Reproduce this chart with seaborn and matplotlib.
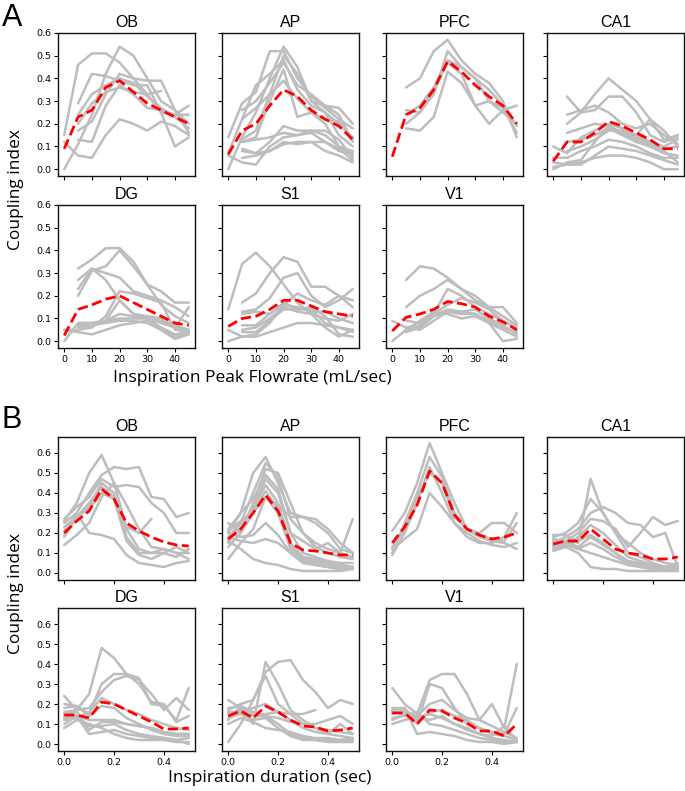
import numpy as np
import pandas as pd
import matplotlib.pyplot as plt
import seaborn as sns

nan = np.nan

regions = ['OB', 'AP', 'PFC', 'CA1', 'DG', 'S1', 'V1']
flowrate = [0, 5, 10, 15, 20, 25, 30, 35, 40, 45]
duration = [0.0, 0.05, 0.1, 0.15, 0.2, 0.25, 0.3, 0.35, 0.4, 0.45, 0.5]

# ---- panel A: coupling index vs inspiration peak flowrate ----
a_ob_mean = [0.09, 0.23, 0.26, 0.36, 0.39, 0.34, 0.29, 0.26, 0.23, 0.20]
a_ob = [
    [0.15, 0.46, 0.51, 0.51, 0.47, 0.40, 0.33, 0.25, 0.24, 0.24],
    [nan, 0.29, 0.42, 0.41, 0.39, 0.37, 0.37, 0.25, 0.10, 0.14],
    [0.00, 0.11, 0.24, 0.42, 0.54, 0.50, 0.40, 0.30, 0.26, 0.20],
    [0.12, 0.06, 0.05, 0.15, 0.22, 0.20, 0.17, 0.21, 0.19, 0.15],
    [nan, 0.13, 0.12, 0.28, 0.37, 0.33, 0.27, 0.26, 0.24, 0.28],
    [nan, 0.17, 0.21, 0.33, 0.42, 0.40, 0.39, 0.39, 0.26, 0.16],
    [nan, 0.20, 0.29, 0.34, 0.36, 0.34, 0.33, 0.345, nan, nan],
    [nan, 0.24, 0.33, 0.37, 0.40, 0.38, 0.32, 0.27, 0.23, 0.18],
]
a_ap_mean = [0.065, 0.17, 0.20, 0.28, 0.35, 0.32, 0.26, 0.22, 0.19, 0.13]
a_ap = [
    [0.14, 0.29, 0.34, 0.52, 0.52, 0.40, 0.32, 0.27, 0.22, 0.18],
    [0.00, 0.14, 0.25, 0.40, 0.54, 0.45, 0.30, 0.28, 0.27, 0.20],
    [0.07, 0.22, 0.37, 0.42, 0.48, 0.35, 0.28, 0.25, 0.15, 0.10],
    [nan, 0.26, 0.30, 0.38, 0.47, 0.37, 0.33, 0.28, 0.24, 0.12],
    [nan, 0.12, 0.14, 0.30, 0.44, 0.23, 0.25, 0.20, 0.10, 0.08],
    [nan, 0.13, 0.17, 0.33, 0.50, 0.42, 0.30, 0.25, 0.20, 0.14],
    [0.06, 0.03, 0.02, 0.10, 0.14, 0.15, 0.17, 0.15, 0.10, 0.06],
    [nan, 0.08, 0.07, 0.12, 0.19, 0.17, 0.17, 0.17, 0.13, 0.05],
    [nan, 0.12, 0.13, 0.14, 0.16, 0.15, 0.16, 0.12, 0.09, 0.04],
    [nan, 0.05, 0.06, 0.08, 0.12, 0.11, 0.12, 0.12, 0.08, 0.07],
    [nan, 0.22, 0.27, 0.33, 0.39, 0.31, 0.25, 0.22, 0.21, 0.13],
    [nan, 0.09, 0.07, 0.08, 0.11, 0.12, 0.12, 0.08, 0.06, 0.03],
]
a_pfc_mean = [0.055, 0.24, 0.27, 0.35, 0.475, 0.43, 0.37, 0.32, 0.28, 0.20]
a_pfc = [
    [nan, 0.36, 0.40, 0.52, 0.57, 0.48, 0.42, 0.38, 0.30, 0.14],
    [nan, 0.26, 0.25, 0.33, 0.52, 0.45, 0.40, 0.30, 0.25, 0.20],
    [nan, 0.18, 0.17, 0.23, 0.43, 0.38, 0.28, 0.20, 0.26, 0.28],
    [nan, 0.20, 0.25, 0.35, 0.47, 0.42, 0.28, 0.30, 0.27, 0.16],
    [nan, 0.24, 0.28, 0.36, 0.48, 0.45, 0.40, 0.35, 0.28, 0.19],
]
a_ca1_mean = [0.035, 0.12, 0.12, 0.16, 0.21, 0.19, 0.16, 0.13, 0.09, 0.09]
a_ca1 = [
    [nan, 0.32, 0.25, 0.33, 0.40, 0.35, 0.30, 0.22, 0.17, 0.10],
    [nan, 0.20, 0.25, 0.26, 0.32, 0.32, 0.25, 0.15, 0.12, 0.14],
    [nan, 0.24, 0.26, 0.28, 0.25, 0.20, 0.18, 0.20, 0.15, 0.11],
    [0.10, 0.07, 0.14, 0.17, 0.20, 0.18, 0.15, 0.22, 0.13, 0.15],
    [nan, 0.16, 0.18, 0.20, 0.19, 0.16, 0.15, 0.12, 0.10, 0.13],
    [0.00, 0.03, 0.04, 0.12, 0.19, 0.16, 0.13, 0.10, 0.07, 0.06],
    [0.05, 0.05, 0.08, 0.10, 0.13, 0.12, 0.10, 0.07, 0.05, 0.05],
    [0.03, 0.02, 0.03, 0.05, 0.06, 0.06, 0.05, 0.03, 0.00, 0.00],
    [nan, 0.12, 0.13, 0.15, 0.18, 0.15, 0.12, 0.10, 0.08, 0.03],
    [nan, 0.08, 0.10, 0.13, 0.17, 0.17, 0.14, 0.11, 0.09, 0.10],
    [0.01, 0.02, 0.02, 0.06, 0.10, 0.09, 0.08, 0.06, 0.04, 0.02],
]
a_dg_mean = [0.025, 0.14, 0.16, 0.185, 0.20, 0.17, 0.14, 0.11, 0.08, 0.07]
a_dg = [
    [nan, 0.32, 0.36, 0.41, 0.41, 0.35, 0.25, 0.22, 0.17, 0.17],
    [nan, 0.27, 0.32, 0.30, 0.28, 0.22, 0.20, 0.18, 0.15, 0.11],
    [nan, 0.20, 0.31, 0.33, 0.40, 0.33, 0.25, 0.16, 0.11, 0.08],
    [nan, 0.23, 0.32, 0.27, 0.18, 0.12, 0.10, 0.09, 0.07, 0.05],
    [0.05, 0.05, 0.06, 0.11, 0.22, 0.21, 0.19, 0.17, 0.05, 0.04],
    [0.00, 0.08, 0.08, 0.09, 0.18, 0.12, 0.11, 0.10, 0.06, 0.15],
    [nan, 0.07, 0.07, 0.09, 0.12, 0.11, 0.10, 0.06, 0.03, 0.04],
    [nan, 0.06, 0.07, 0.08, 0.09, 0.09, 0.08, 0.05, 0.02, 0.03],
    [0.05, 0.04, 0.03, 0.05, 0.07, 0.08, 0.09, 0.05, 0.01, 0.03],
    [nan, 0.08, 0.08, 0.09, 0.10, 0.10, 0.10, 0.08, 0.06, 0.05],
]
a_s1_mean = [0.065, 0.10, 0.11, 0.14, 0.18, 0.18, 0.155, 0.13, 0.12, 0.11]
a_s1 = [
    [0.14, 0.34, 0.39, 0.33, 0.25, 0.17, 0.12, 0.06, 0.02, 0.05],
    [nan, 0.17, 0.21, 0.30, 0.37, 0.35, 0.24, 0.24, 0.20, 0.15],
    [nan, 0.13, 0.14, 0.19, 0.28, 0.30, 0.20, 0.15, 0.18, 0.23],
    [0.05, 0.02, 0.03, 0.08, 0.16, 0.21, 0.18, 0.16, 0.20, 0.18],
    [nan, 0.07, 0.07, 0.12, 0.16, 0.15, 0.13, 0.13, 0.10, 0.08],
    [0.00, 0.02, 0.02, 0.04, 0.06, 0.08, 0.08, 0.07, 0.06, 0.05],
    [nan, 0.04, 0.04, 0.09, 0.14, 0.14, 0.15, 0.11, 0.03, 0.02],
    [nan, 0.05, 0.06, 0.10, 0.15, 0.13, 0.12, 0.10, 0.09, 0.12],
    [nan, 0.12, 0.13, 0.12, 0.17, 0.14, 0.14, 0.08, 0.06, 0.04],
]
a_v1_mean = [0.045, 0.105, 0.12, 0.14, 0.175, 0.165, 0.15, 0.11, 0.085, 0.05]
a_v1 = [
    [nan, 0.27, 0.33, 0.32, 0.28, 0.23, 0.18, 0.15, 0.15, 0.08],
    [nan, 0.15, 0.20, 0.23, 0.27, 0.23, 0.20, 0.15, 0.11, 0.07],
    [nan, 0.04, 0.06, 0.12, 0.23, 0.20, 0.15, 0.12, 0.09, 0.06],
    [0.00, 0.05, 0.06, 0.11, 0.14, 0.13, 0.12, 0.08, 0.00, 0.01],
    [0.09, 0.06, 0.07, 0.11, 0.13, 0.13, 0.14, 0.10, 0.07, 0.03],
    [nan, 0.05, 0.09, 0.13, 0.12, 0.10, 0.11, 0.08, 0.05, 0.02],
    [nan, 0.09, 0.08, 0.12, 0.16, 0.19, 0.17, 0.14, 0.09, 0.05],
    [nan, 0.06, 0.05, 0.09, 0.13, 0.12, 0.12, 0.09, 0.06, 0.04],
]

# ---- panel B: coupling index vs inspiration duration ----
b_ob_mean = [0.20, 0.26, 0.31, 0.42, 0.37, 0.25, 0.21, 0.18, 0.155, 0.14, 0.135]
b_ob = [
    [0.26, 0.35, 0.50, 0.59, 0.45, 0.34, 0.22, 0.13, 0.12, 0.10, 0.07],
    [0.19, 0.30, 0.40, 0.49, 0.53, 0.52, 0.53, 0.38, 0.37, 0.28, 0.30],
    [0.27, 0.33, 0.38, 0.47, 0.43, 0.44, 0.43, 0.35, 0.30, 0.20, 0.20],
    [0.14, 0.19, 0.25, 0.38, 0.45, 0.23, 0.20, 0.27, nan, nan, nan],
    [0.25, 0.30, 0.20, 0.19, 0.17, 0.09, 0.05, 0.04, 0.03, 0.05, 0.06],
    [0.21, 0.28, 0.33, 0.45, 0.40, 0.18, 0.10, 0.10, 0.10, 0.08, 0.12],
    [0.18, 0.28, 0.35, 0.43, 0.38, 0.22, 0.12, 0.10, 0.12, 0.10, 0.10],
    [0.23, 0.28, 0.32, 0.40, 0.37, 0.16, 0.09, 0.07, 0.10, 0.13, 0.10],
]
b_ap_mean = [0.17, 0.22, 0.30, 0.39, 0.31, 0.15, 0.115, 0.11, 0.10, 0.09, 0.09]
b_ap = [
    [0.20, 0.30, 0.50, 0.58, 0.45, 0.30, 0.28, 0.27, 0.22, 0.15, 0.10],
    [0.15, 0.25, 0.40, 0.55, 0.48, 0.27, 0.20, 0.15, 0.12, 0.10, 0.08],
    [0.25, 0.20, 0.35, 0.52, 0.50, 0.35, 0.20, 0.13, 0.10, 0.08, 0.07],
    [0.22, 0.30, 0.37, 0.49, 0.42, 0.20, 0.10, 0.08, 0.06, 0.05, 0.05],
    [0.18, 0.25, 0.32, 0.44, 0.35, 0.15, 0.08, 0.06, 0.05, 0.04, 0.03],
    [0.13, 0.20, 0.30, 0.41, 0.32, 0.14, 0.07, 0.05, 0.04, 0.03, 0.02],
    [0.07, 0.15, 0.22, 0.38, 0.30, 0.12, 0.06, 0.04, 0.03, 0.02, 0.02],
    [0.20, 0.18, 0.19, 0.25, 0.19, 0.10, 0.08, 0.07, 0.05, 0.04, 0.03],
    [0.18, 0.16, 0.15, 0.17, 0.15, 0.10, 0.05, 0.04, 0.03, 0.02, 0.03],
    [0.16, 0.12, 0.07, 0.05, 0.04, 0.02, 0.01, 0.01, 0.01, 0.01, 0.02],
    [0.21, 0.26, 0.30, 0.38, 0.34, 0.28, 0.28, 0.25, 0.20, 0.12, 0.10],
    [0.17, 0.22, 0.33, 0.47, 0.40, 0.20, 0.16, 0.12, 0.15, 0.10, 0.27],
]
b_pfc_mean = [0.15, 0.23, 0.34, 0.51, 0.45, 0.29, 0.22, 0.19, 0.17, 0.18, 0.20]
b_pfc = [
    [0.21, 0.30, 0.45, 0.65, 0.50, 0.35, 0.22, 0.18, 0.16, 0.15, 0.12],
    [0.10, 0.25, 0.40, 0.58, 0.48, 0.30, 0.22, 0.20, 0.25, 0.25, 0.20],
    [0.09, 0.20, 0.35, 0.53, 0.40, 0.25, 0.18, 0.15, 0.15, 0.18, 0.30],
    [0.12, 0.17, 0.22, 0.40, 0.33, 0.25, 0.20, 0.16, 0.14, 0.13, 0.15],
    [0.13, 0.22, 0.38, 0.50, 0.45, 0.28, 0.22, 0.19, 0.17, 0.16, 0.25],
]
b_ca1_mean = [0.145, 0.16, 0.16, 0.22, 0.17, 0.12, 0.10, 0.09, 0.07, 0.07, 0.08]
b_ca1 = [
    [0.19, 0.19, 0.15, 0.47, 0.30, 0.20, 0.10, 0.08, 0.05, 0.03, 0.01],
    [0.18, 0.20, 0.25, 0.37, 0.30, 0.20, 0.15, 0.10, 0.07, 0.05, 0.04],
    [0.15, 0.18, 0.22, 0.30, 0.33, 0.30, 0.25, 0.24, 0.18, 0.20, 0.03],
    [0.17, 0.16, 0.20, 0.27, 0.26, 0.22, 0.13, 0.20, 0.28, 0.24, 0.26],
    [0.14, 0.14, 0.16, 0.19, 0.15, 0.10, 0.05, 0.03, 0.02, 0.02, 0.02],
    [0.12, 0.14, 0.12, 0.15, 0.12, 0.08, 0.05, 0.04, 0.03, 0.02, 0.02],
    [0.11, 0.13, 0.10, 0.03, 0.02, 0.02, 0.01, 0.01, 0.01, 0.01, 0.01],
    [0.16, 0.15, 0.12, 0.10, 0.08, 0.06, 0.04, 0.03, 0.02, 0.01, 0.02],
    [0.13, 0.14, 0.18, 0.24, 0.20, 0.14, 0.08, 0.06, 0.04, 0.03, 0.03],
    [0.15, 0.16, 0.13, 0.18, 0.14, 0.10, 0.06, 0.05, 0.04, 0.03, 0.05],
]
b_dg_mean = [0.145, 0.145, 0.13, 0.21, 0.20, 0.17, 0.14, 0.11, 0.075, 0.075, 0.08]
b_dg = [
    [0.16, 0.17, 0.25, 0.48, 0.43, 0.35, 0.33, 0.20, 0.19, 0.12, 0.28],
    [0.20, 0.19, 0.15, 0.30, 0.35, 0.35, 0.30, 0.21, 0.20, 0.11, 0.14],
    [0.24, 0.17, 0.18, 0.26, 0.32, 0.34, 0.32, 0.25, 0.17, 0.23, 0.17],
    [0.12, 0.13, 0.16, 0.23, 0.20, 0.17, 0.15, 0.12, 0.10, 0.08, 0.07],
    [0.15, 0.16, 0.07, 0.11, 0.11, 0.10, 0.09, 0.08, 0.06, 0.05, 0.05],
    [0.10, 0.14, 0.05, 0.06, 0.07, 0.05, 0.04, 0.03, 0.03, 0.02, 0.03],
    [0.08, 0.12, 0.10, 0.08, 0.05, 0.03, 0.02, 0.02, 0.02, 0.01, 0.01],
    [0.18, 0.19, 0.14, 0.19, 0.18, 0.13, 0.10, 0.07, 0.05, 0.04, 0.04],
    [0.13, 0.13, 0.09, 0.09, 0.10, 0.07, 0.05, 0.04, 0.03, 0.02, 0.00],
    [0.14, 0.14, 0.12, 0.12, 0.12, 0.10, 0.09, 0.08, 0.06, 0.05, 0.05],
]
b_s1_mean = [0.14, 0.165, 0.13, 0.19, 0.16, 0.12, 0.09, 0.085, 0.065, 0.07, 0.08]
b_s1 = [
    [0.01, 0.10, 0.22, 0.36, 0.41, 0.42, 0.32, 0.26, 0.18, 0.22, 0.20],
    [0.22, 0.18, 0.10, 0.41, 0.30, 0.17, 0.12, 0.08, 0.05, 0.04, 0.03],
    [0.17, 0.20, 0.22, 0.34, 0.20, 0.15, 0.10, 0.08, 0.07, 0.06, 0.05],
    [0.12, 0.19, 0.15, 0.15, 0.16, 0.15, 0.15, 0.17, nan, nan, nan],
    [0.18, 0.19, 0.16, 0.14, 0.13, 0.11, 0.10, 0.10, 0.12, 0.14, 0.10],
    [0.15, 0.17, 0.14, 0.14, 0.10, 0.05, 0.03, 0.02, 0.02, 0.02, 0.03],
    [0.10, 0.13, 0.11, 0.08, 0.07, 0.06, 0.04, 0.03, 0.03, 0.02, 0.02],
    [0.13, 0.15, 0.12, 0.13, 0.08, 0.04, 0.02, 0.02, 0.01, 0.01, 0.01],
    [0.16, 0.16, 0.18, 0.20, 0.16, 0.12, 0.08, 0.06, 0.05, 0.10, 0.05],
]
b_v1_mean = [0.155, 0.155, 0.10, 0.17, 0.165, 0.13, 0.105, 0.065, 0.065, 0.04, 0.10]
b_v1 = [
    [0.28, 0.20, 0.15, 0.32, 0.35, 0.35, 0.25, 0.12, 0.20, 0.08, 0.40],
    [0.18, 0.18, 0.10, 0.30, 0.28, 0.18, 0.10, 0.08, 0.06, 0.05, 0.18],
    [0.17, 0.18, 0.05, 0.06, 0.05, 0.04, 0.02, 0.01, 0.01, 0.00, 0.01],
    [0.10, 0.12, 0.14, 0.20, 0.22, 0.17, 0.13, 0.12, 0.09, 0.06, 0.03],
    [0.12, 0.15, 0.14, 0.12, 0.14, 0.10, 0.07, 0.05, 0.03, 0.02, 0.01],
    [0.13, 0.14, 0.16, 0.10, 0.09, 0.07, 0.05, 0.03, 0.02, 0.01, 0.01],
    [0.15, 0.17, 0.13, 0.15, 0.13, 0.10, 0.08, 0.05, 0.04, 0.09, 0.02],
    [0.16, 0.16, 0.12, 0.16, 0.17, 0.14, 0.12, 0.08, 0.05, 0.04, 0.02],
]

a_lines = [a_ob, a_ap, a_pfc, a_ca1, a_dg, a_s1, a_v1]
a_means = [a_ob_mean, a_ap_mean, a_pfc_mean, a_ca1_mean, a_dg_mean, a_s1_mean, a_v1_mean]
b_lines = [b_ob, b_ap, b_pfc, b_ca1, b_dg, b_s1, b_v1]
b_means = [b_ob_mean, b_ap_mean, b_pfc_mean, b_ca1_mean, b_dg_mean, b_s1_mean, b_v1_mean]

sns.set_style('ticks')
plt.rcParams['font.family'] = ['DejaVu Sans']
plt.rcParams['text.color'] = 'black'
plt.rcParams['xtick.color'] = 'black'
plt.rcParams['ytick.color'] = 'black'
plt.rcParams['axes.labelcolor'] = 'black'

W, H = 685, 791
fig = plt.figure(figsize=(W / 100, H / 100), dpi=100)

col_left = [58, 222, 386, 547]
ax_w, ax_h = 137, 143
row_tops = {'A': [33, 205], 'B': [437, 608]}


def make_ax(left, top):
    return fig.add_axes([left / W, 1 - (top + ax_h) / H, ax_w / W, ax_h / H])


def draw_panel(tag, xs, lines, means, ylim, xticks, xfmt):
    for i, reg in enumerate(regions):
        row, col = divmod(i, 4)
        ax = make_ax(col_left[col], row_tops[tag][row])
        long = pd.DataFrame(
            [(k, x, v) for k, ln in enumerate(lines[i]) for x, v in zip(xs, ln)],
            columns=['animal', 'x', 'ci'],
        ).dropna()
        sns.lineplot(data=long, x='x', y='ci', units='animal', estimator=None,
                     color='#bdbdbd', lw=1.8, ax=ax, legend=False)
        sns.lineplot(x=xs, y=means[i], color='red', ls='--', lw=2, ax=ax)
        ax.set_ylim(*ylim)
        ax.set_yticks(np.arange(0, 0.61, 0.1))
        ax.set_xticks(xticks)
        ax.set_xlabel('')
        ax.set_ylabel('')
        ax.set_title(reg, fontsize=11.5, family='Liberation Sans', color='black', pad=4)
        ax.tick_params(labelsize=6.8, length=3, width=0.8, pad=2, colors='black')
        for s in ax.spines.values():
            s.set_linewidth(1.0)
            s.set_color('#111111')
        if col == 0:
            ax.set_yticklabels([f'{t:.1f}' for t in ax.get_yticks()])
        else:
            ax.set_yticklabels([])
        if row == 1:
            ax.set_xticklabels([xfmt(t) for t in xticks])
        else:
            ax.set_xticklabels([])


draw_panel('A', flowrate, a_lines, a_means, (-0.03, 0.6),
           [0, 10, 20, 30, 40], lambda t: f'{t:d}')
draw_panel('B', duration, b_lines, b_means, (-0.035, 0.68),
           [0.0, 0.2, 0.4], lambda t: f'{t:.1f}')

fig.text(12 / W, 1 - 18 / H, 'A', fontsize=22, family='Liberation Sans',
         ha='center', va='center')
fig.text(12 / W, 1 - 420 / H, 'B', fontsize=22, family='Liberation Sans',
         ha='center', va='center')
fig.text(16 / W, 1 - 190 / H, 'Coupling index', rotation=90, fontsize=12.5,
         family='Open Sans', ha='center', va='center')
fig.text(16 / W, 1 - 594 / H, 'Coupling index', rotation=90, fontsize=12.5,
         family='Open Sans', ha='center', va='center')
fig.text(252 / W, 1 - 378 / H, 'Inspiration Peak Flowrate (mL/sec)', fontsize=12.5,
         family='Open Sans', ha='center', va='center')
fig.text(270 / W, 1 - 778 / H, 'Inspiration duration (sec)', fontsize=12.5,
         family='Open Sans', ha='center', va='center')

fig.savefig('out.png', dpi=100)
